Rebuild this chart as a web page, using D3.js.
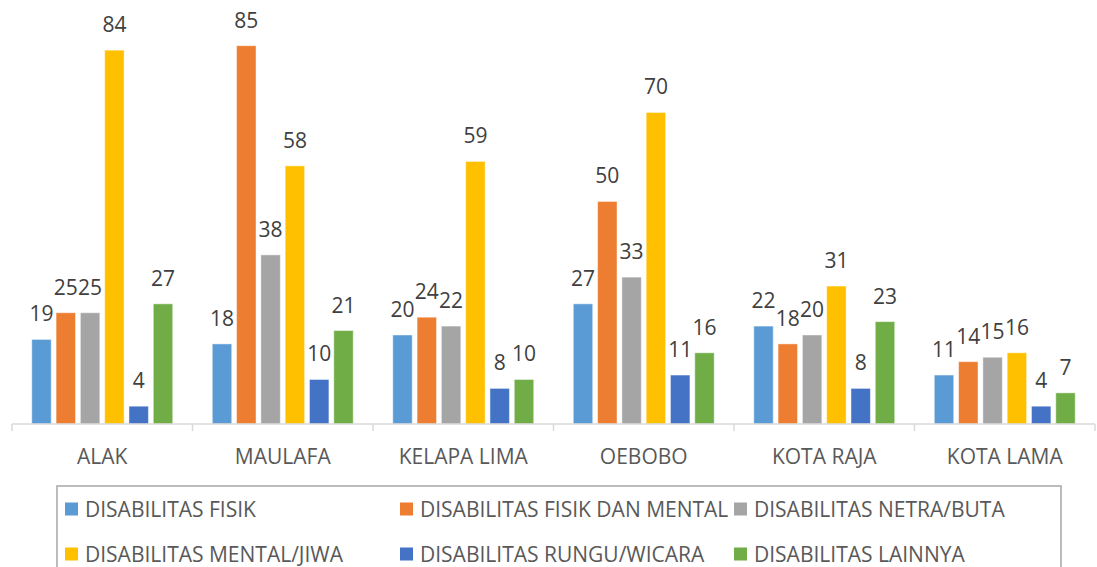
<!DOCTYPE html>
<html>
<head>
<meta charset="utf-8">
<script src="https://cdn.jsdelivr.net/npm/d3@7"></script>
<style>
  body { margin: 0; background: #fff; }
  svg text { font-family: "Open Sans", "Noto Sans", sans-serif; }
</style>
</head>
<body>
<svg id="chart" width="1097" height="567"></svg>
<script>
var svgWidth = 1097;
var svgHeight = 567;

// data
var categories = ["ALAK", "MAULAFA", "KELAPA LIMA", "OEBOBO", "KOTA RAJA", "KOTA LAMA"];
var seriesNames = [
  "DISABILITAS FISIK",
  "DISABILITAS FISIK DAN MENTAL",
  "DISABILITAS NETRA/BUTA",
  "DISABILITAS MENTAL/JIWA",
  "DISABILITAS RUNGU/WICARA",
  "DISABILITAS LAINNYA"
];
var fisik       = [19, 18, 20, 27, 22, 11];
var fisikMental = [25, 85, 24, 50, 18, 14];
var netra       = [25, 38, 22, 33, 20, 15];
var mental      = [84, 58, 59, 70, 31, 16];
var rungu       = [4, 10, 8, 11, 8, 4];
var lainnya     = [27, 21, 10, 16, 23, 7];
var seriesValues = [fisik, fisikMental, netra, mental, rungu, lainnya];
var colors = ["#5B9BD5", "#ED7D31", "#A5A5A5", "#FFC000", "#4472C4", "#70AD47"];

var svg = d3.select("#chart");

var x0 = d3.scaleBand()
  .domain(categories)
  .range([12, 1095])
  .paddingInner(0)
  .paddingOuter(0);

var x1 = d3.scaleBand()
  .domain(d3.range(seriesNames.length))
  .range([0, x0.bandwidth()])
  .paddingInner(0.2)
  .paddingOuter(0.814);

var y = d3.scaleLinear()
  .domain([0, 85])
  .range([424, 45.7]);

var color = d3.scaleOrdinal().domain(d3.range(seriesNames.length)).range(colors);

// bars, one group per category
var groups = svg.selectAll("g.cat")
  .data(categories)
  .enter()
  .append("g")
  .attr("class", "cat")
  .attr("transform", function(d) { return "translate(" + x0(d) + ",0)"; });

var cells = groups.selectAll("g.bar")
  .data(function(d, i) {
    return seriesValues.map(function(vals, s) { return { s: s, v: vals[i] }; });
  })
  .enter()
  .append("g")
  .attr("class", "bar");

cells.append("rect")
  .attr("x", function(d) { return x1(d.s); })
  .attr("y", function(d) { return y(d.v); })
  .attr("width", x1.bandwidth())
  .attr("height", function(d) { return y(0) - y(d.v); })
  .attr("fill", function(d) { return color(d.s); })
  .attr("stroke", "rgba(255,255,255,0.45)")
  .attr("stroke-width", 1);

// value labels
cells.append("text")
  .attr("x", function(d) { return x1(d.s) + x1.bandwidth() / 2; })
  .attr("y", function(d) { return y(d.v) - 18; })
  .attr("text-anchor", "middle")
  .attr("font-size", 21)
  .attr("fill", "#404040")
  .text(function(d) { return d.v; });

// x axis
var axis = svg.append("g")
  .attr("transform", "translate(0," + y(0) + ")");

axis.append("line")
  .attr("x1", x0.range()[0])
  .attr("x2", x0.range()[1])
  .attr("stroke", "#d9d9d9")
  .attr("stroke-width", 1.5);

var boundaries = categories.map(function(c) { return x0(c); }).concat([x0.range()[1]]);
axis.selectAll("line.tick")
  .data(boundaries)
  .enter()
  .append("line")
  .attr("class", "tick")
  .attr("x1", function(d) { return d; })
  .attr("x2", function(d) { return d; })
  .attr("y1", 0)
  .attr("y2", 7)
  .attr("stroke", "#d9d9d9")
  .attr("stroke-width", 1.5);

axis.selectAll("text")
  .data(categories)
  .enter()
  .append("text")
  .attr("x", function(d) { return x0(d) + x0.bandwidth() / 2; })
  .attr("y", 40)
  .attr("text-anchor", "middle")
  .attr("font-size", 21)
  .attr("fill", "#595959")
  .text(function(d) { return d; });

// legend
var legend = svg.append("g");
legend.append("rect")
  .attr("x", 57)
  .attr("y", 486)
  .attr("width", 1004)
  .attr("height", 110)
  .attr("fill", "none")
  .attr("stroke", "#a6a6a6")
  .attr("stroke-width", 1.5);

var colX = [65, 400, 734];
var rowY = [509, 554];

var items = legend.selectAll("g.item")
  .data(seriesNames)
  .enter()
  .append("g")
  .attr("class", "item")
  .attr("transform", function(d, i) {
    return "translate(" + colX[i % 3] + "," + rowY[Math.floor(i / 3)] + ")";
  });

items.append("rect")
  .attr("x", 0)
  .attr("y", -6.5)
  .attr("width", 13)
  .attr("height", 13)
  .attr("fill", function(d, i) { return color(i); });

items.append("text")
  .attr("x", 20)
  .attr("y", 7.5)
  .attr("font-size", 21)
  .attr("fill", "#595959")
  .text(function(d) { return d; });
</script>
</body>
</html>
